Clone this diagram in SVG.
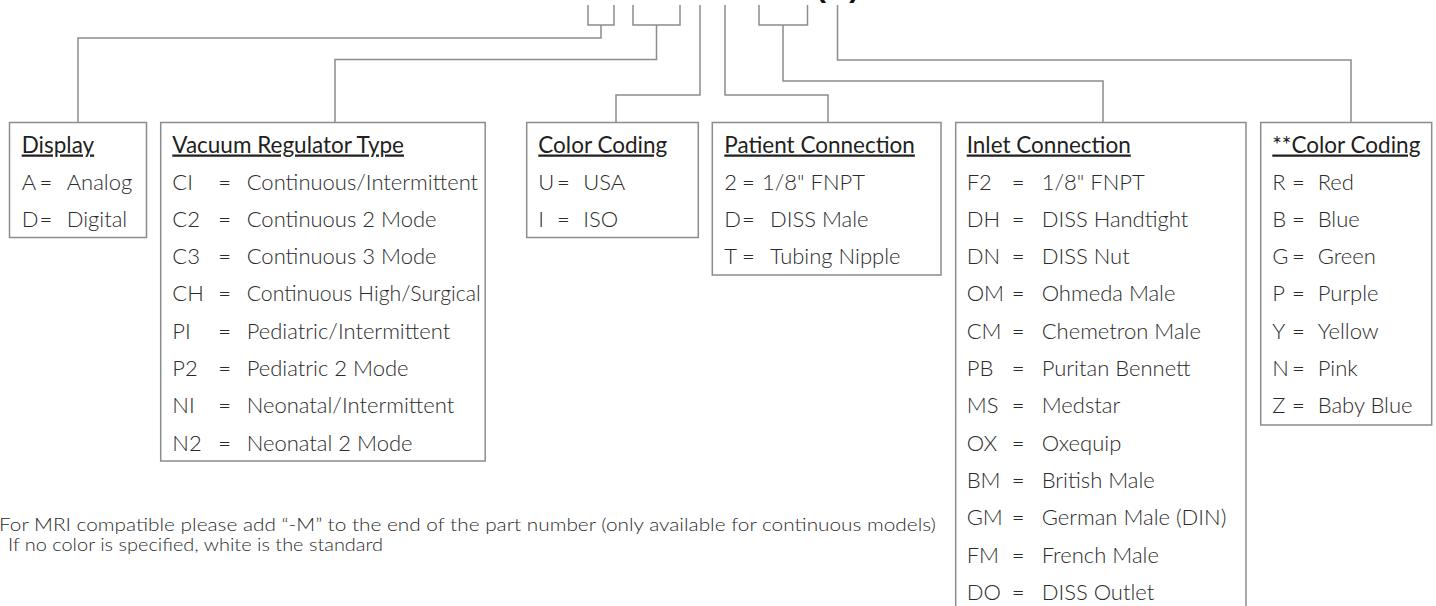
<svg xmlns="http://www.w3.org/2000/svg" width="1436" height="606" viewBox="0 0 1436 606">
<style>
.box{fill:#fff;stroke:#8c8c8c;stroke-width:1.5}
.ln{fill:none;stroke:#8c8c8c;stroke-width:1.5}
.h{font-family:Lato,"Open Sans","Liberation Sans",sans-serif;font-weight:400;font-size:22.5px;fill:#231f20;text-decoration:underline}
.b{font-family:Lato,"Open Sans","Liberation Sans",sans-serif;font-weight:300;font-size:22px;fill:#2b2b2b}
.f{font-family:Lato,"Open Sans","Liberation Sans",sans-serif;font-weight:300;font-size:17px;fill:#2b2b2b}
.t{font-family:"Liberation Sans",Arial,sans-serif;font-weight:700;font-size:30px;fill:#111}
</style>
<rect width="1436" height="606" fill="#fff"/>
<text class="t" x="816" y="-3.5">(**)</text>
<g id="connectors">
<path class="ln" d="M588,5 V25 H614 V5 M601,25 V38 H78 V122"/>
<path class="ln" d="M633,5 V25 H680 V5 M656.5,25 V59.5 H335 V122"/>
<path class="ln" d="M700,5 V95 H616 V122"/>
<path class="ln" d="M725,5 V95 H828 V122"/>
<path class="ln" d="M759,5 V25 H807.5 V5 M783,25 V81 H1103 V122"/>
<path class="ln" d="M837.5,5 V60 H1351 V122"/>
</g>
<g id="display">
<rect class="box" x="9.5" y="122.5" width="137" height="115"/>
<text class="h" x="21.7" y="152.5">Display</text>
<text class="b" x="21.7" y="189.5">A</text><text class="b" x="39.5" y="189.5">=</text><text class="b" x="66.7" y="189.5">Analog</text>
<text class="b" x="21.7" y="226.8">D</text><text class="b" x="39.5" y="226.8">=</text><text class="b" x="66.7" y="226.8">Digital</text>
</g>
<g id="vacuum">
<rect class="box" x="160.7" y="122.5" width="324.5" height="338.5"/>
<text class="h" x="172.3" y="152.5">Vacuum Regulator Type</text>
<g class="b">
<text x="172.3" y="189.5">CI</text><text x="218.3" y="189.5">=</text><text x="246.7" y="189.5">Continuous/Intermittent</text>
<text x="172.3" y="226.8">C2</text><text x="218.3" y="226.8">=</text><text x="246.7" y="226.8">Continuous 2 Mode</text>
<text x="172.3" y="264.1">C3</text><text x="218.3" y="264.1">=</text><text x="246.7" y="264.1">Continuous 3 Mode</text>
<text x="172.3" y="301.4">CH</text><text x="218.3" y="301.4">=</text><text x="246.7" y="301.4" textLength="234" lengthAdjust="spacingAndGlyphs">Continuous High/Surgical</text>
<text x="172.3" y="338.7">PI</text><text x="218.3" y="338.7">=</text><text x="246.7" y="338.7">Pediatric/Intermittent</text>
<text x="172.3" y="376">P2</text><text x="218.3" y="376">=</text><text x="246.7" y="376">Pediatric 2 Mode</text>
<text x="172.3" y="413.3">NI</text><text x="218.3" y="413.3">=</text><text x="246.7" y="413.3">Neonatal/Intermittent</text>
<text x="172.3" y="450.6">N2</text><text x="218.3" y="450.6">=</text><text x="246.7" y="450.6">Neonatal 2 Mode</text>
</g>
</g>
<g id="color-coding">
<rect class="box" x="526.7" y="122.5" width="171.6" height="115"/>
<text class="h" x="538.3" y="152.5">Color Coding</text>
<g class="b">
<text x="538.3" y="189.5">U</text><text x="557" y="189.5">=</text><text x="583.3" y="189.5">USA</text>
<text x="538.3" y="226.8">I</text><text x="557" y="226.8">=</text><text x="583.3" y="226.8">ISO</text>
</g>
</g>
<g id="patient">
<rect class="box" x="712.3" y="122.5" width="228.7" height="152.5"/>
<text class="h" x="724.3" y="152.5">Patient Connection</text>
<g class="b">
<text x="724.3" y="189.5">2</text><text x="742" y="189.5">=</text><text x="762" y="189.5">1/8" FNPT</text>
<text x="724.3" y="226.8">D</text><text x="742" y="226.8">=</text><text x="770" y="226.8">DISS Male</text>
<text x="724.3" y="264.1">T</text><text x="742" y="264.1">=</text><text x="770" y="264.1">Tubing Nipple</text>
</g>
</g>
<g id="inlet">
<rect class="box" x="955.7" y="122.5" width="290.3" height="500"/>
<text class="h" x="966.7" y="152.5">Inlet Connection</text>
<g class="b">
<text x="966.7" y="189.5">F2</text><text x="1011.7" y="189.5">=</text><text x="1041.7" y="189.5">1/8" FNPT</text>
<text x="966.7" y="226.8">DH</text><text x="1011.7" y="226.8">=</text><text x="1041.7" y="226.8">DISS Handtight</text>
<text x="966.7" y="264.1">DN</text><text x="1011.7" y="264.1">=</text><text x="1041.7" y="264.1">DISS Nut</text>
<text x="966.7" y="301.4">OM</text><text x="1011.7" y="301.4">=</text><text x="1041.7" y="301.4">Ohmeda Male</text>
<text x="966.7" y="338.7">CM</text><text x="1011.7" y="338.7">=</text><text x="1041.7" y="338.7">Chemetron Male</text>
<text x="966.7" y="376">PB</text><text x="1011.7" y="376">=</text><text x="1041.7" y="376">Puritan Bennett</text>
<text x="966.7" y="413.3">MS</text><text x="1011.7" y="413.3">=</text><text x="1041.7" y="413.3">Medstar</text>
<text x="966.7" y="450.6">OX</text><text x="1011.7" y="450.6">=</text><text x="1041.7" y="450.6">Oxequip</text>
<text x="966.7" y="487.9">BM</text><text x="1011.7" y="487.9">=</text><text x="1041.7" y="487.9">British Male</text>
<text x="966.7" y="525.2">GM</text><text x="1011.7" y="525.2">=</text><text x="1041.7" y="525.2">German Male (DIN)</text>
<text x="966.7" y="562.5">FM</text><text x="1011.7" y="562.5">=</text><text x="1041.7" y="562.5">French Male</text>
<text x="966.7" y="599.8">DO</text><text x="1011.7" y="599.8">=</text><text x="1041.7" y="599.8">DISS Outlet</text>
</g>
</g>
<g id="color-coding-2">
<rect class="box" x="1260.7" y="122.5" width="171" height="302.5"/>
<text class="h" x="1272.3" y="152.5">**Color Coding</text>
<g class="b">
<text x="1272.3" y="189.5">R</text><text x="1292" y="189.5">=</text><text x="1317.7" y="189.5">Red</text>
<text x="1272.3" y="226.8">B</text><text x="1292" y="226.8">=</text><text x="1317.7" y="226.8">Blue</text>
<text x="1272.3" y="264.1">G</text><text x="1292" y="264.1">=</text><text x="1317.7" y="264.1">Green</text>
<text x="1272.3" y="301.4">P</text><text x="1292" y="301.4">=</text><text x="1317.7" y="301.4">Purple</text>
<text x="1272.3" y="338.7">Y</text><text x="1292" y="338.7">=</text><text x="1317.7" y="338.7">Yellow</text>
<text x="1272.3" y="376">N</text><text x="1292" y="376">=</text><text x="1317.7" y="376">Pink</text>
<text x="1272.3" y="413.3">Z</text><text x="1292" y="413.3">=</text><text x="1317.7" y="413.3">Baby Blue</text>
</g>
</g>
<g id="notes">
<text class="f" x="-1" y="531" textLength="937" lengthAdjust="spacingAndGlyphs">For MRI compatible please add “-M” to the end of the part number (only available for continuous models)</text>
<text class="f" x="8" y="550.5" textLength="375" lengthAdjust="spacingAndGlyphs">If no color is specified, white is the standard</text>
</g>
</svg>
